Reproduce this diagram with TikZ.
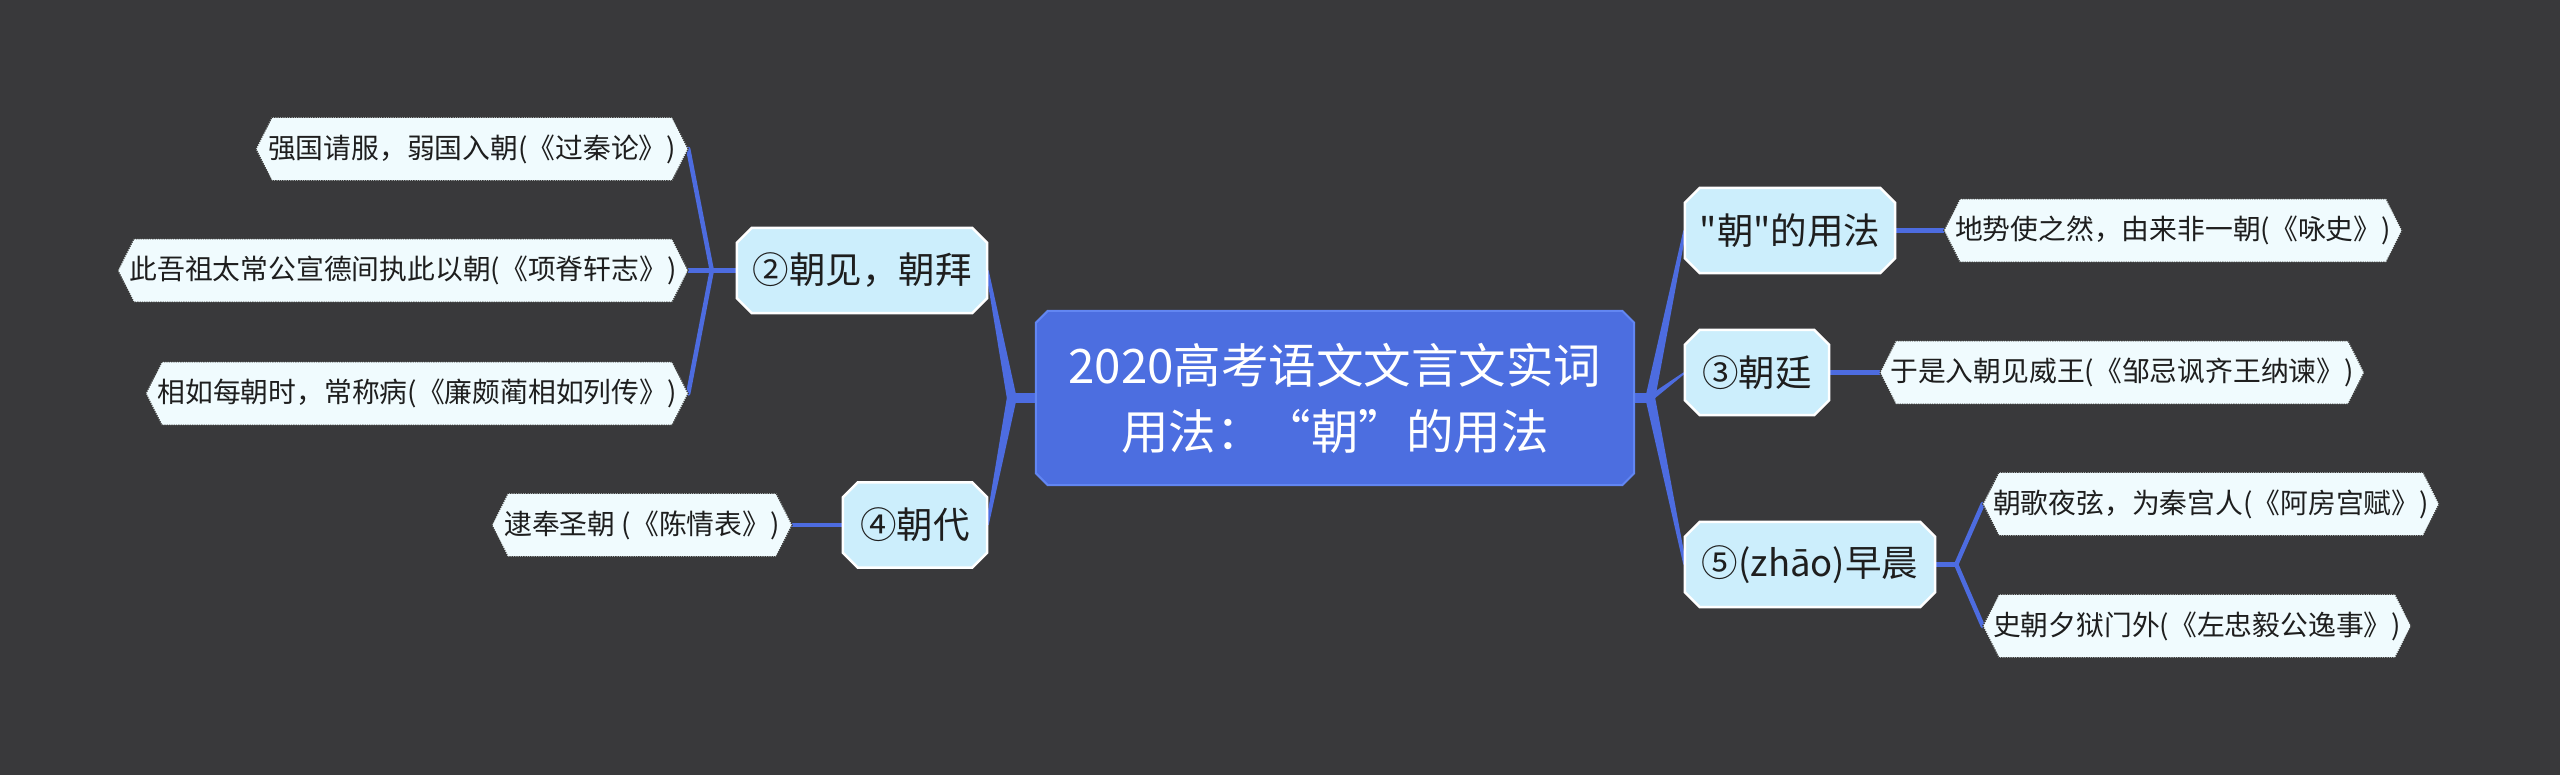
\documentclass[tikz,border=0pt]{standalone}
\usepackage{fontspec}
\setmainfont{Noto Sans CJK SC}
\newfontfamily\cjkplain{Noto Sans CJK SC}
\usetikzlibrary{calc}
\pgfdeclarelayer{bg}
\pgfsetlayers{bg,main}
\definecolor{bgc}{HTML}{39393B}
\definecolor{cfill}{HTML}{4C6EE0}
\definecolor{cborder}{HTML}{6286F2}
\definecolor{mfill}{HTML}{CCEEFC}
\definecolor{lfill}{HTML}{F0FBFE}
\definecolor{lborder}{HTML}{3A3A3A}
\definecolor{conn}{HTML}{4D6CE0}
\definecolor{txt}{HTML}{1E1E1E}
\newcommand\mmchamf[3]{%
  \path[#3] ($(#1.north west)+(#2,0)$) -- ($(#1.north east)+(-#2,0)$) -- ($(#1.north east)+(0,#2)$) -- ($(#1.south east)+(0,-#2)$) -- ($(#1.south east)+(-#2,0)$) -- ($(#1.south west)+(#2,0)$) -- ($(#1.south west)+(0,-#2)$) -- ($(#1.north west)+(0,#2)$) -- cycle;}
\newcommand\mmleaf[2]{%
  \path[lshape] ($(#1.north west)+(#2,0)$) -- ($(#1.north east)+(-#2,0)$) -- (#1.east) -- ($(#1.south east)+(-#2,0)$) -- ($(#1.south west)+(#2,0)$) -- (#1.west) -- cycle;}
\newcommand\mmtaper[2]{%
  \fill[conn] ($(#1)+(-5,0)$) -- ($(#2)+(-1.5,0)$) -- ($(#2)+(1.5,0)$) -- ($(#1)+(5,0)$) -- cycle;}
\begin{document}
\begin{tikzpicture}[x=1pt,y=-1pt,
  centernode/.style={inner sep=0pt, minimum width=598pt, minimum height=174pt, align=center, text=white, font=\cjkplain\fontsize{47.5}{66}\selectfont},
  midnode/.style={inner sep=0pt, minimum height=85pt, text=txt, font=\cjkplain\fontsize{36.5}{42}\selectfont},
  leafnode/.style={inner sep=0pt, minimum height=63pt, text=txt, font=\cjkplain\fontsize{27.8}{32}\selectfont},
  cshape/.style={fill=cfill, draw=cborder, line width=2pt},
  mshape/.style={fill=mfill, draw=white, line width=2.5pt},
  lshape/.style={fill=lfill, draw=lborder, line width=1.3pt, densely dotted},
  thinconn/.style={draw=conn, line width=4.5pt},
  stubconn/.style={draw=conn, line width=10pt}]
\useasboundingbox (0,0) rectangle (2560,775);
% nodes (text)
\node[centernode] (c) at (1335,398) {2020高考语文文言文实词\\用法：“朝”的用法};
\node[midnode, minimum width=250pt] (m2) at (862,270.5) {②朝见，朝拜};
\node[midnode, minimum width=144pt] (m4) at (915,525) {④朝代};
\node[midnode, minimum width=210pt] (m1) at (1790,230.5) {"朝"的用法};
\node[midnode, minimum width=144pt] (m3) at (1757,372.5) {③朝廷};
\node[midnode, minimum width=250pt] (m5) at (1810,564.5) {⑤(zhāo)早晨};
\node[leafnode, minimum width=432pt] (l1) at (472,149) {强国请服，弱国入朝(《过秦论》)};
\node[leafnode, minimum width=570pt] (l2) at (403,270.5) {此吾祖太常公宣德间执此以朝(《项脊轩志》)};
\node[leafnode, minimum width=542pt] (l3) at (417,393.5) {相如每朝时，常称病(《廉颇蔺相如列传》)};
\node[leafnode, minimum width=300pt] (l4) at (642,525) {逮奉圣朝 (《陈情表》)};
\node[leafnode, minimum width=458pt] (r1) at (2173,230.5) {地势使之然，由来非一朝(《咏史》)};
\node[leafnode, minimum width=484pt] (r2) at (2122,372.5) {于是入朝见威王(《邹忌讽齐王纳谏》)};
\node[leafnode, minimum width=456pt] (r3) at (2211,504) {朝歌夜弦，为秦宫人(《阿房宫赋》)};
\node[leafnode, minimum width=428pt] (r4) at (2197,626) {史朝夕狱门外(《左忠毅公逸事》)};
\coordinate (jl) at ($(c.west)+(-24,0)$);
\coordinate (jr) at ($(c.east)+(16,0)$);
\coordinate (j2) at ($(m2.west)+(-25,0)$);
\coordinate (j5) at ($(m5.east)+(21,0)$);
\begin{pgfonlayer}{bg}
  \fill[bgc] (0,0) rectangle (2560,775);
  % connectors from the centre
  \draw[stubconn] (c.west) -- (jl);
  \draw[stubconn] (c.east) -- (jr);
  \mmtaper{jl}{m2.east}
  \mmtaper{jl}{m4.east}
  \mmtaper{jr}{m1.west}
  \mmtaper{jr}{m3.west}
  \mmtaper{jr}{m5.west}
  % connectors to leaves
  \draw[thinconn] (m2.west) -- (l2.east);
  \draw[thinconn, line cap=round] (j2) -- (l1.east);
  \draw[thinconn, line cap=round] (j2) -- (l3.east);
  \draw[thinconn] (m4.west) -- (l4.east);
  \draw[thinconn] (m1.east) -- (r1.west);
  \draw[thinconn] (m3.east) -- (r2.west);
  \draw[thinconn] (m5.east) -- (j5);
  \draw[thinconn, line cap=round] (j5) -- (r3.west);
  \draw[thinconn, line cap=round] (j5) -- (r4.west);
  % shapes
  \mmchamf{c}{12}{cshape}
  \mmchamf{m2}{15}{mshape}
  \mmchamf{m4}{15}{mshape}
  \mmchamf{m1}{15}{mshape}
  \mmchamf{m3}{15}{mshape}
  \mmchamf{m5}{15}{mshape}
  \mmleaf{l1}{16}
  \mmleaf{l2}{16}
  \mmleaf{l3}{16}
  \mmleaf{l4}{16}
  \mmleaf{r1}{16}
  \mmleaf{r2}{16}
  \mmleaf{r3}{16}
  \mmleaf{r4}{16}
\end{pgfonlayer}
\end{tikzpicture}
\end{document}
